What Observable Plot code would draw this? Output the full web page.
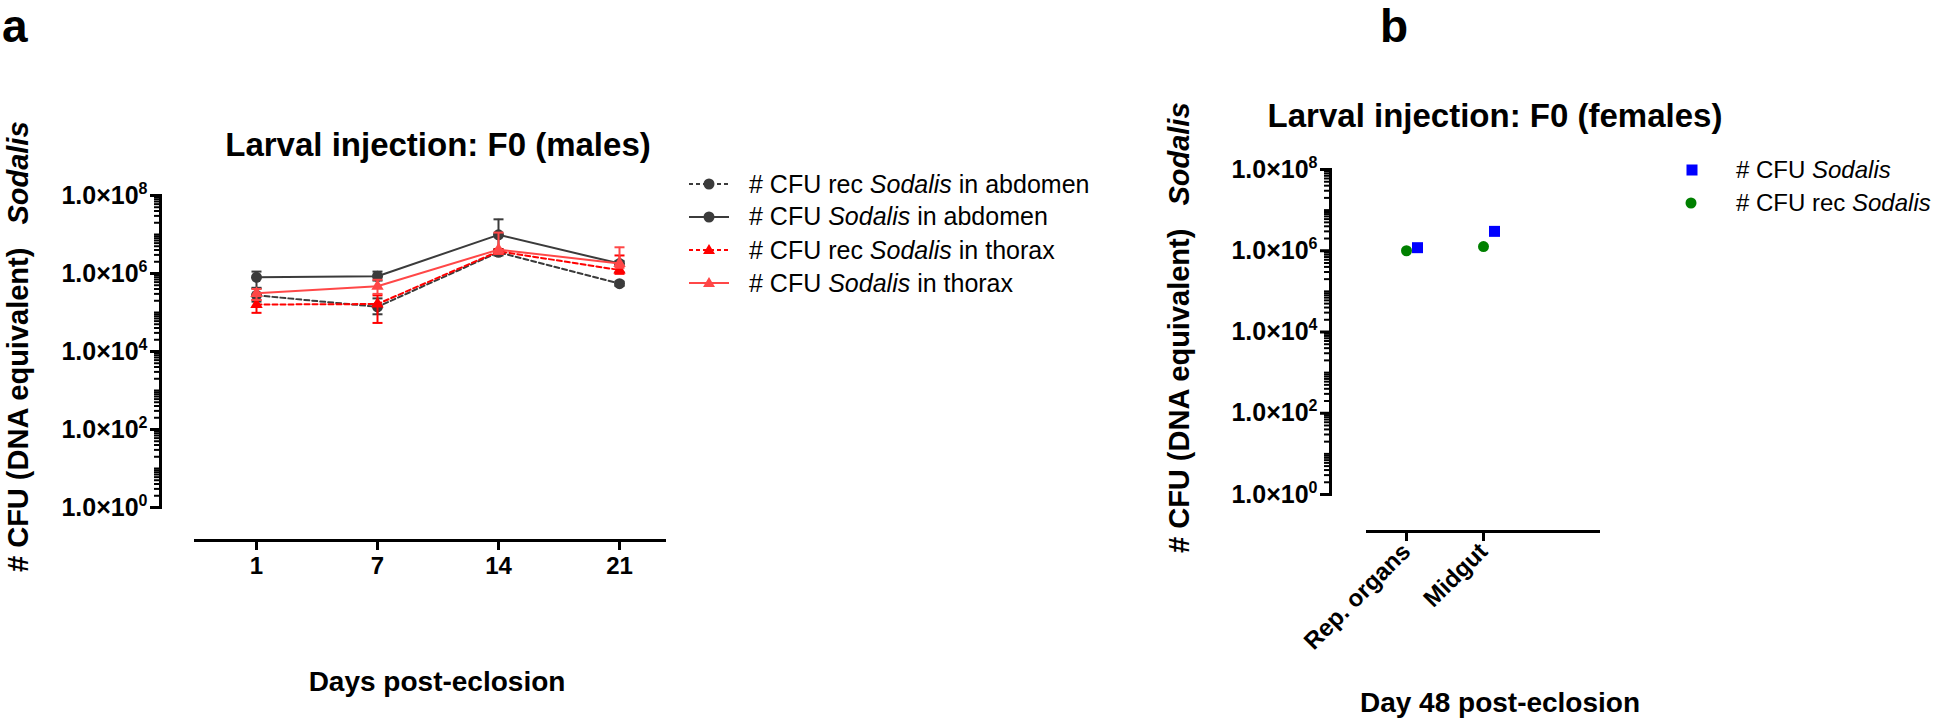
<!DOCTYPE html>
<html><head><meta charset="utf-8">
<script src="https://cdn.jsdelivr.net/npm/d3@7"></script>
<script src="https://cdn.jsdelivr.net/npm/@observablehq/plot@0.6"></script>
<style>
html,body{margin:0;padding:0;background:#fff;}
#page{position:relative;width:1946px;height:722px;overflow:hidden;font-family:"Liberation Sans",Arial,Helvetica,sans-serif;color:#000;}
.abs{position:absolute;white-space:nowrap;line-height:1;}
.ctr{transform:translate(-50%,-50%);}
.plotwrap{position:absolute;top:0;}
.panel{font-weight:bold;font-size:46px;line-height:1;}
.title{font-weight:bold;font-size:33px;}
.xtitle{font-weight:bold;font-size:28px;}
.ytitle{font-weight:bold;font-size:29px;line-height:29px;transform:rotate(-90deg);transform-origin:0 0;}
.lrow{position:absolute;display:flex;align-items:center;height:32px;white-space:nowrap;}
.lrow svg{display:block;flex:none;}
.ltext{line-height:1;}
</style>
</head>
<body>
<div id="page">
  <div class="abs panel" style="left:2px;top:3px;">a</div>
  <div class="abs panel" style="left:1380px;top:3px;">b</div>
  <div class="abs title ctr" style="left:438px;top:144px;">Larval injection: F0 (males)</div>
  <div class="abs title ctr" style="left:1495px;top:115px;">Larval injection: F0 (females)</div>
  <div class="abs xtitle ctr" style="left:437px;top:682px;">Days post-eclosion</div>
  <div class="abs xtitle ctr" style="left:1500px;top:703px;">Day 48 post-eclosion</div>
  <div class="abs ytitle" style="left:4px;top:572px;"># CFU (DNA equivalent)<span style="display:inline-block;width:23px"></span><i>Sodalis</i></div>
  <div class="abs ytitle" style="left:1165px;top:553px;"># CFU (DNA equivalent)<span style="display:inline-block;width:23px"></span><i>Sodalis</i></div>
  <div id="plotA" class="plotwrap" style="left:0px;"></div>
  <div id="plotB" class="plotwrap" style="left:1100px;"></div>
  <div id="legendA"></div>
  <div id="legendB"></div>
</div>
<script>
// ---------- Panel a data (males, F0) ----------
const days = [1, 7, 14, 21];
const recAbdomen   = [2.75e5, 1.4e5, 3.5e6, 5.5e5];
const recAbdomenLo = [1.9e5, 9.0e4, 2.9e6, 4.8e5];
const recAbdomenHi = [4.1e5, 2.3e5, 4.2e6, 6.2e5];
const sodAbdomen   = [8.0e5, 8.5e5, 9.8e6, 1.8e6];
const sodAbdomenLo = [4.3e5, 6.6e5, 4.0e6, 1.07e6];
const sodAbdomenHi = [1.12e6, 1.12e6, 2.45e7, 2.1e6];
const recThorax    = [1.6e5, 1.65e5, 3.7e6, 1.23e6];
const recThoraxLo  = [9.8e4, 5.4e4, 3.2e6, 9.8e5];
const recThoraxHi  = [2.1e5, 2.75e5, 4.2e6, 2.9e6];
const sodThorax    = [3.1e5, 4.7e5, 4.1e6, 1.8e6];
const sodThoraxLo  = [2.1e5, 3.0e5, 3.2e6, 1.4e6];
const sodThoraxHi  = [4.0e5, 6.9e5, 1.12e7, 4.7e6];
const legendLabelsA = [
  ["# CFU rec ", "Sodalis", " in abdomen"],
  ["# CFU ", "Sodalis", " in abdomen"],
  ["# CFU rec ", "Sodalis", " in thorax"],
  ["# CFU ", "Sodalis", " in thorax"]
];

// ---------- Panel b data (females, day 48) ----------
const organs = ["Rep. organs", "Midgut"];
const sodalisB = [1.19e6, 3.0e6];
const recSodalisB = [1.0e6, 1.27e6];
const legendLabelsB = [["# CFU ", "Sodalis", ""], ["# CFU rec ", "Sodalis", ""]];

// tick values
const majorTicks = [1, 1e2, 1e4, 1e6, 1e8];
const minorTicks = [];
for (let e = 0; e < 8; e++) for (let m = 2; m <= 10; m++) { const v = m * Math.pow(10, e); if (!majorTicks.includes(v)) minorTicks.push(v); }

const FONT = '"Liberation Sans", Arial, Helvetica, sans-serif';
const fmtMajor = d => "1.0\u00d710^" + Math.round(Math.log10(d));
const capSymbol = {draw(ctx) { ctx.moveTo(-5, 0); ctx.lineTo(5, 0); }};

// style config (not data)
const GREY = "#3b3b3b";
const styleA = [
  {values: recAbdomen, lo: recAbdomenLo, hi: recAbdomenHi, color: GREY, dash: "5,3", symbol: "circle", r: 5.5},
  {values: sodAbdomen, lo: sodAbdomenLo, hi: sodAbdomenHi, color: GREY, dash: null, symbol: "circle", r: 5.5},
  {values: recThorax, lo: recThoraxLo, hi: recThoraxHi, color: "#ff0000", dash: "5,3", symbol: "triangle", r: 4.6},
  {values: sodThorax, lo: sodThoraxLo, hi: sodThoraxHi, color: "#ff4747", dash: null, symbol: "triangle", r: 4.6}
];

function yAxisMarks() {
  return [
    Plot.axisY(minorTicks, {tickSize: 6, strokeWidth: 2, tickFormat: () => "", label: null}),
    Plot.axisY(majorTicks, {tickSize: 10, tickPadding: 3, strokeWidth: 3, fontSize: 25, fontWeight: "bold", fill: "#000", tickFormat: fmtMajor, label: null})
  ];
}

const marksA = [];
for (const s of styleA) {
  const rows = days.map((d, i) => ({day: d, value: s.values[i], lo: s.lo[i], hi: s.hi[i]}));
  marksA.push(Plot.ruleX(rows, {x: "day", y1: "lo", y2: "hi", stroke: s.color, strokeWidth: 2}));
  marksA.push(Plot.dot(rows, {x: "day", y: "lo", symbol: capSymbol, stroke: s.color, strokeWidth: 2, fill: "none"}));
  marksA.push(Plot.dot(rows, {x: "day", y: "hi", symbol: capSymbol, stroke: s.color, strokeWidth: 2, fill: "none"}));
  marksA.push(Plot.line(rows, {x: "day", y: "value", stroke: s.color, strokeWidth: 2, strokeDasharray: s.dash}));
  marksA.push(Plot.dot(rows, {x: "day", y: "value", symbol: s.symbol, r: s.r, fill: s.color, stroke: "none"}));
}

const plotA = Plot.plot({
  width: 700, height: 722,
  marginLeft: 160, marginTop: 195, marginRight: 20, marginBottom: 182,
  style: {fontFamily: FONT, overflow: "visible", background: "transparent"},
  x: {type: "point", domain: days, range: [195, 680], padding: 0.5},
  y: {type: "log", domain: [1, 1e8], range: [507, 195]},
  marks: [
    Plot.frame({anchor: "left", insetBottom: 33, strokeWidth: 3, stroke: "#000", strokeLinecap: "square"}),
    Plot.frame({anchor: "bottom", insetLeft: 35, insetRight: 16, strokeWidth: 3, stroke: "#000"}),
    ...yAxisMarks(),
    Plot.axisX({tickSize: 10, tickPadding: 6, strokeWidth: 3, fontSize: 24, fontWeight: "bold", fill: "#000", label: null}),
    ...marksA
  ]
});
document.getElementById("plotA").appendChild(plotA);

const rowsB = organs.map((o, i) => ({organ: o, sod: sodalisB[i], rec: recSodalisB[i]}));
const plotB = Plot.plot({
  width: 600, height: 722,
  marginLeft: 230, marginTop: 169, marginRight: 102, marginBottom: 191,
  style: {fontFamily: FONT, overflow: "visible", background: "transparent"},
  x: {type: "point", domain: organs, range: [267, 498], padding: 1, align: 0.25},
  y: {type: "log", domain: [1, 1e8], range: [494, 169]},
  marks: [
    Plot.frame({anchor: "left", insetBottom: 37, strokeWidth: 3, stroke: "#000", strokeLinecap: "square"}),
    Plot.frame({anchor: "bottom", insetLeft: 37, strokeWidth: 3, stroke: "#000"}),
    ...yAxisMarks(),
    Plot.axisX({tickSize: 10, tickPadding: 6, tickRotate: -45, strokeWidth: 3, fontSize: 24, fontWeight: "bold", fill: "#000", label: null}),
    Plot.dot(rowsB, {x: "organ", y: "rec", symbol: "circle", r: 5.5, fill: "#008000", stroke: "none"}),
    Plot.dot(rowsB, {x: "organ", y: "sod", symbol: "square", r: 6.2, fill: "#0000ff", stroke: "none", dx: 11})
  ]
});
document.getElementById("plotB").appendChild(plotB);

// superscript exponents in y tick labels
for (const svg of [plotA, plotB]) {
  d3.select(svg).selectAll('g[aria-label="y-axis tick label"] text').each(function () {
    const t = this.textContent;
    if (!t.includes("^")) return;
    const [base, exp] = t.split("^");
    const sel = d3.select(this);
    sel.text(null);
    sel.append("tspan").text(base);
    sel.append("tspan").attr("dy", -10).attr("font-size", 16).text(exp);
  });
}

// legends
function swatch(color, dash, symbol, withLine) {
  const w = withLine ? 40 : 20;
  const ns = "http://www.w3.org/2000/svg";
  const svg = document.createElementNS(ns, "svg");
  svg.setAttribute("width", w); svg.setAttribute("height", 20);
  const cx = w / 2;
  if (withLine) {
    const l = document.createElementNS(ns, "line");
    l.setAttribute("x1", 0); l.setAttribute("x2", w); l.setAttribute("y1", 10); l.setAttribute("y2", 10);
    l.setAttribute("stroke", color); l.setAttribute("stroke-width", 2);
    if (dash) l.setAttribute("stroke-dasharray", "4,3");
    svg.appendChild(l);
  }
  let m;
  if (symbol === "circle") { m = document.createElementNS(ns, "circle"); m.setAttribute("cx", cx); m.setAttribute("cy", 10); m.setAttribute("r", 5.5); }
  else if (symbol === "triangle") { m = document.createElementNS(ns, "path"); m.setAttribute("d", `M${cx},4 L${cx+6},14 L${cx-6},14 Z`); }
  else { m = document.createElementNS(ns, "rect"); m.setAttribute("x", cx - 5.5); m.setAttribute("y", 4.5); m.setAttribute("width", 11); m.setAttribute("height", 11); }
  m.setAttribute("fill", color);
  svg.appendChild(m);
  return svg;
}
function legendRow(parent, left, cy, sw, gap, parts, size) {
  const row = document.createElement("div");
  row.className = "lrow";
  row.style.left = left + "px"; row.style.top = (cy - 16) + "px";
  row.appendChild(sw);
  const span = document.createElement("span");
  span.className = "ltext";
  span.style.marginLeft = gap + "px";
  span.style.fontSize = size + "px";
  span.append(parts[0]);
  const it = document.createElement("i"); it.textContent = parts[1]; span.append(it);
  span.append(parts[2]);
  row.appendChild(span);
  parent.appendChild(row);
}
const legA = document.getElementById("legendA");
const rowYA = [184, 216.5, 250, 283];
styleA.forEach((s, i) => legendRow(legA, 689, rowYA[i], swatch(s.color, s.dash, s.symbol, true), 20, legendLabelsA[i], 25));
const legB = document.getElementById("legendB");
legendRow(legB, 1682, 170, swatch("#0000ff", null, "square", false), 34, legendLabelsB[0], 24);
legendRow(legB, 1681, 203, swatch("#008000", null, "circle", false), 35, legendLabelsB[1], 24);
</script>
</body></html>
